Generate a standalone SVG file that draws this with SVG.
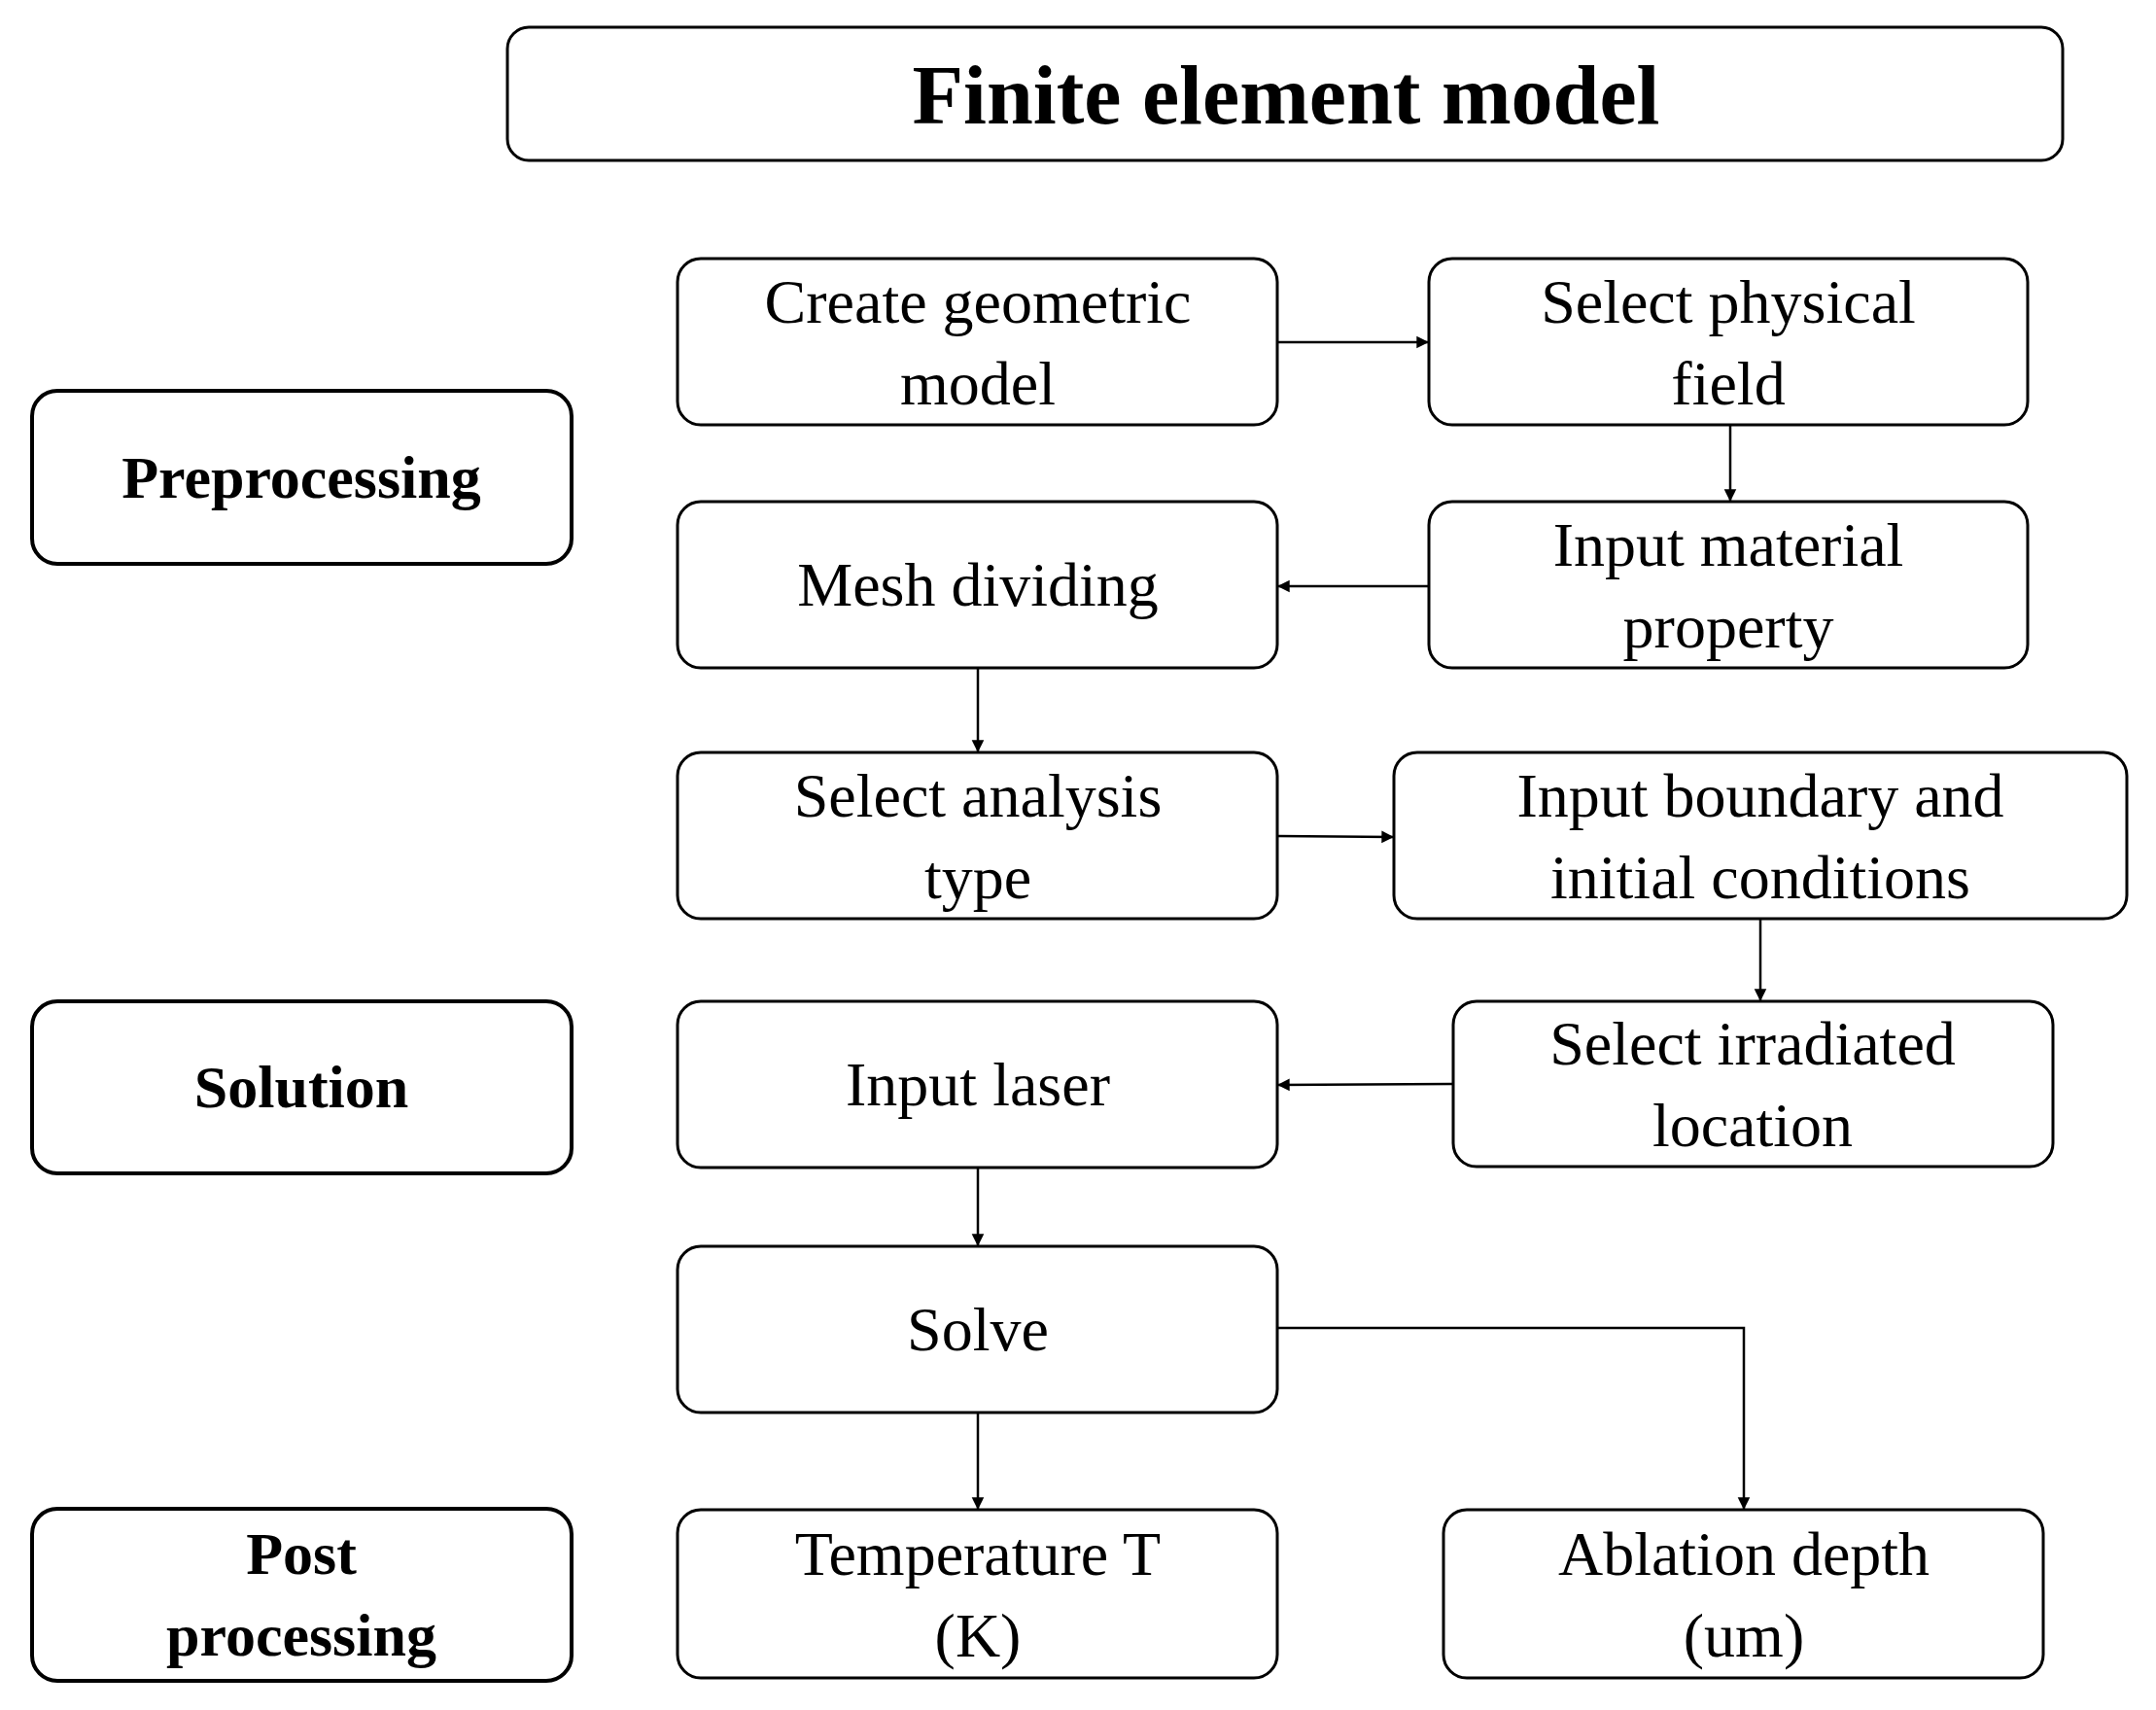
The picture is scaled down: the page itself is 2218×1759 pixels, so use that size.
<svg xmlns="http://www.w3.org/2000/svg" width="2218" height="1759" viewBox="0 0 2218 1759">
<style>
rect{fill:#fff;stroke:#000;stroke-width:3}
.t{font-family:"Liberation Serif",serif;font-size:64px;text-anchor:middle;dominant-baseline:central}
.b{font-weight:bold;font-size:62px}
.c line,.c polyline{stroke:#000;stroke-width:2.5;fill:none;marker-end:url(#a)}
</style>
<defs><marker id="a" viewBox="0 0 10 10" refX="10" refY="5" markerWidth="7" markerHeight="7" orient="auto" markerUnits="userSpaceOnUse" style="overflow:visible"><path d="M0,0L10,5L0,10z" transform="scale(1.8) translate(-4.5,-2.2)"/></marker></defs>
<rect width="2218" height="1759" style="stroke:none"/>
<g id="title"><rect x="522" y="28" width="1600" height="137" rx="22"/><text class="t b" x="1323" y="98" style="font-size:86px">Finite element model</text></g>
<g id="pre"><rect x="33" y="402" width="555" height="178" rx="26" style="stroke-width:4"/><text class="t b" x="310" y="491">Preprocessing</text></g>
<g id="sol"><rect x="33" y="1030" width="555" height="177" rx="26" style="stroke-width:4"/><text class="t b" x="310" y="1118">Solution</text></g>
<g id="post"><rect x="33" y="1552" width="555" height="177" rx="26" style="stroke-width:4"/><text class="t b" x="310" y="1598">Post</text><text class="t b" x="310" y="1682">processing</text></g>
<g id="n1"><rect x="697" y="266" width="617" height="171" rx="24"/><text class="t" x="1006" y="310">Create geometric</text><text class="t" x="1006" y="394">model</text></g>
<g id="n2"><rect x="1470" y="266" width="616" height="171" rx="24"/><text class="t" x="1778" y="310">Select physical</text><text class="t" x="1778" y="394">field</text></g>
<g id="n3"><rect x="1470" y="516" width="616" height="171" rx="24"/><text class="t" x="1778" y="560">Input material</text><text class="t" x="1778" y="644">property</text></g>
<g id="n4"><rect x="697" y="516" width="617" height="171" rx="24"/><text class="t" x="1006" y="601">Mesh dividing</text></g>
<g id="n5"><rect x="697" y="774" width="617" height="171" rx="24"/><text class="t" x="1006" y="818">Select analysis</text><text class="t" x="1006" y="902">type</text></g>
<g id="n6"><rect x="1434" y="774" width="754" height="171" rx="24"/><text class="t" x="1811" y="818">Input boundary and</text><text class="t" x="1811" y="902">initial conditions</text></g>
<g id="n7"><rect x="1495" y="1030" width="617" height="170" rx="24"/><text class="t" x="1803" y="1073">Select irradiated</text><text class="t" x="1803" y="1157">location</text></g>
<g id="n8"><rect x="697" y="1030" width="617" height="171" rx="24"/><text class="t" x="1006" y="1115">Input laser</text></g>
<g id="n9"><rect x="697" y="1282" width="617" height="171" rx="24"/><text class="t" x="1006" y="1367">Solve</text></g>
<g id="n10"><rect x="697" y="1553" width="617" height="173" rx="24"/><text class="t" x="1006" y="1598">Temperature T</text><text class="t" x="1006" y="1682">(K)</text></g>
<g id="n11"><rect x="1485" y="1553" width="617" height="173" rx="24"/><text class="t" x="1794" y="1598">Ablation depth</text><text class="t" x="1794" y="1682">(um)</text></g>
<g class="c" id="connectors">
<line x1="1314" y1="352" x2="1470" y2="352"/>
<line x1="1780" y1="437" x2="1780" y2="516"/>
<line x1="1470" y1="603" x2="1314" y2="603"/>
<line x1="1006" y1="687" x2="1006" y2="774"/>
<line x1="1314" y1="860" x2="1434" y2="861"/>
<line x1="1811" y1="945" x2="1811" y2="1030"/>
<line x1="1495" y1="1115" x2="1314" y2="1116"/>
<line x1="1006" y1="1201" x2="1006" y2="1282"/>
<line x1="1006" y1="1453" x2="1006" y2="1553"/>
<polyline points="1314,1366 1794,1366 1794,1553"/>
</g>
</svg>
